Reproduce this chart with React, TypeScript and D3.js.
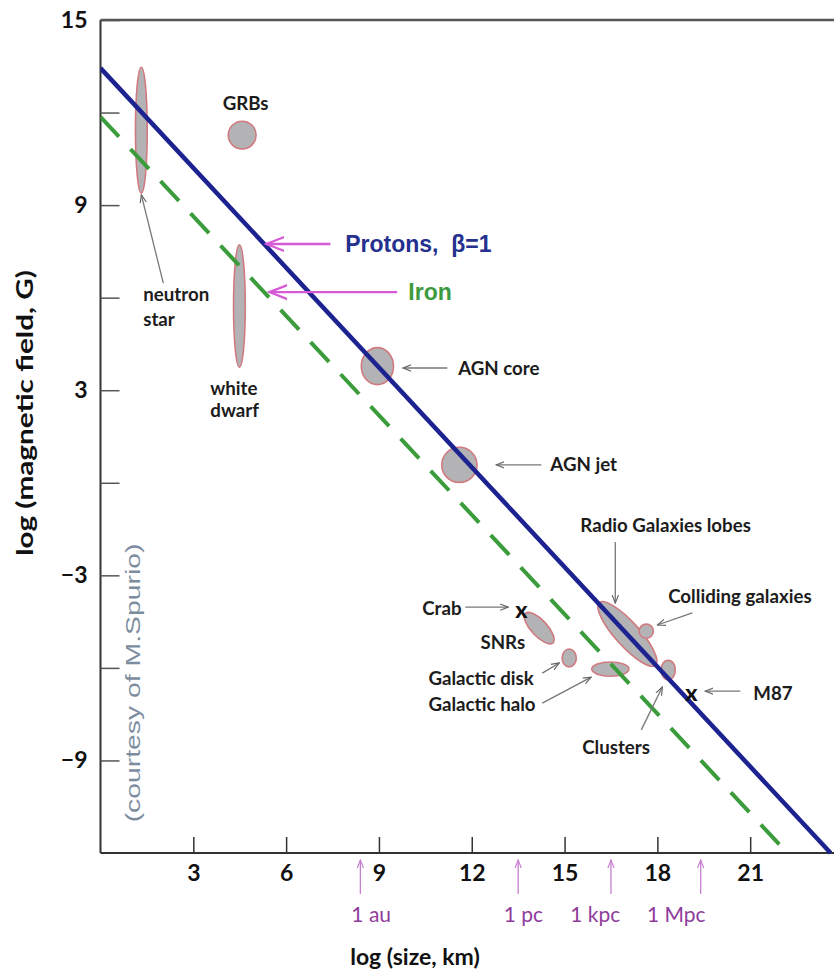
import React, { useRef, useEffect } from 'react';
import * as d3 from 'd3';

// Hillas lines: [log size (km), log B (G)]
const protonLine: [number, number][] = [[0, 13.44], [23.6, -12]];
const ironLine: [number, number][] = [[0, 11.86], [22.2, -12]];

// source regions (centre, half extent along each axis, tilt in degrees)
const sourceNames = ['neutron star', 'GRBs', 'white dwarf', 'AGN core', 'AGN jet', 'Radio Galaxies lobes', 'Colliding galaxies', 'Clusters', 'SNRs', 'Galactic disk', 'Galactic halo'];
const sourceSize = [1.32, 4.58, 4.49, 8.95, 11.6, 17.03, 17.64, 18.35, 14.18, 15.15, 16.48];
const sourceField = [11.43, 11.27, 5.73, 3.78, 0.58, -4.9, -4.81, -6.07, -4.71, -5.68, -6.04];
const sourceSizeSpread = [0.19, 0.45, 0.19, 0.52, 0.57, 1.36, 0.23, 0.23, 0.65, 0.23, 0.6];
const sourceFieldSpread = [2.04, 0.45, 1.98, 0.6, 0.57, 0.39, 0.23, 0.32, 0.26, 0.29, 0.23];
const sourceTilt = [0, 0, 0, 0, 0, 48, 0, 0, 47, 0, 0];

// single objects marked with x
const pointNames = ['Crab', 'M87'];
const pointSize = [13.6, 19.1];
const pointField = [-4.12, -6.82];

// annotation texts (left edge / centre line in data units)
const labelTexts = ['GRBs', 'neutron', 'star', 'white', 'dwarf', 'AGN core', 'AGN jet', 'Radio Galaxies lobes', 'Colliding galaxies', 'Crab', 'SNRs', 'Galactic disk', 'Galactic halo', 'M87', 'Clusters'];
const labelX = [3.95, 1.38, 1.38, 3.55, 3.55, 11.56, 14.54, 15.51, 18.35, 10.4, 12.28, 10.6, 10.6, 21.1, 15.57];
const labelY = [12.28, 6.09, 5.28, 3.07, 2.33, 3.72, 0.58, -1.37, -3.7, -4.06, -5.16, -6.33, -7.2, -6.82, -8.57];

// gray pointer arrows [from, to]
const pointerFrom: [number, number][] = [[2.03, 6.47], [11.21, 3.72], [14.25, 0.58], [16.64, -1.92], [19.13, -4.22], [11.79, -4.03], [14.28, -6.17], [14.28, -7.14], [20.68, -6.75], [17.48, -8.01]];
const pointerTo: [number, number][] = [[1.32, 9.33], [9.78, 3.72], [12.79, 0.58], [16.64, -3.9], [18.0, -4.61], [13.18, -4.03], [14.83, -5.84], [15.86, -6.3], [19.55, -6.75], [18.16, -6.62]];

// line legend
const legendNames = ['Protons,  β=1', 'Iron'];
const legendX = [7.91, 9.95];
const legendY = [7.74, 6.18];
const legendArrowFrom = [7.43, 9.59];
const legendArrowTo = [5.36, 5.46];

// length units under the x axis
const unitNames = ['1 au', '1 pc', '1 kpc', '1 Mpc'];
const unitValues = [8.4, 13.5, 16.5, 19.4];
const unitLabelAt = [8.75, 13.67, 15.99, 18.61];

const xTicks = [3, 6, 9, 12, 15, 18, 21];
const yTicks = [15, 12, 9, 6, 3, 0, -3, -6, -9];
const yTickLabels = [15, 9, 3, -3, -9];

const W = 834;
const H = 976;
const BLUE = '#1c2290';
const GREEN = '#3a9c3a';
const PINK = '#d659d6';
const FONT = 'Lato, "Open Sans", sans-serif';

export default function App() {
    const ref = useRef<SVGSVGElement>(null);

    useEffect(() => {
        const svg = d3.select(ref.current);
        svg.selectAll('*').remove();

        const x = d3.scaleLinear().domain([0, 24]).range([100.5, 843]);
        const y = d3.scaleLinear().domain([-12, 15]).range([853, 20]);

        const defs = svg.append('defs');
        defs.append('clipPath').attr('id', 'plot')
            .append('rect').attr('x', x(0)).attr('y', y(15)).attr('width', W - x(0)).attr('height', y(-12) - y(15) + 4);
        const head = (id: string, color: string, size: number, sw: number) =>
            defs.append('marker').attr('id', id)
                .attr('viewBox', '0 0 10 10').attr('refX', 9).attr('refY', 5)
                .attr('markerWidth', size).attr('markerHeight', size).attr('markerUnits', 'userSpaceOnUse')
                .attr('orient', 'auto')
                .append('path').attr('d', 'M0,1.5 L9,5 L0,8.5').attr('fill', 'none').attr('stroke', color).attr('stroke-width', sw);
        head('gray-head', '#666', 9, 1.3);
        head('pink-head', PINK, 20, 1.1);
        head('unit-head', '#c77fd0', 9, 1.3);

        // frame
        svg.append('line').attr('x1', x(0)).attr('x2', W).attr('y1', y(15)).attr('y2', y(15))
            .attr('stroke', '#555').attr('stroke-width', 2.5);

        // x axis
        svg.append('g')
            .attr('transform', `translate(0, ${y(-12)})`)
            .call(d3.axisBottom(x).tickValues(xTicks).tickSize(-16).tickPadding(12).tickFormat(d3.format('d')))
            .call(g => g.select('.domain').attr('d', `M${x(0)},0H${W}`).attr('stroke', '#333').attr('stroke-width', 2))
            .call(g => g.selectAll('.tick line').attr('stroke', '#333').attr('stroke-width', 1.5))
            .call(g => g.selectAll('.tick text').attr('font-family', FONT).attr('font-weight', 700).attr('font-size', 23).attr('fill', '#111'));

        // y axis
        svg.append('g')
            .attr('transform', `translate(${x(0)}, 0)`)
            .call(d3.axisLeft(y).tickValues(yTicks).tickSize(-19).tickPadding(14)
                .tickFormat(d => (yTickLabels.includes(+d) ? (+d < 0 ? '\u2212' + Math.abs(+d) : String(d)) : '')))
            .call(g => g.select('.domain').attr('d', `M0,${y(15)}V${y(-12)}`).attr('stroke', '#333').attr('stroke-width', 2))
            .call(g => g.selectAll('.tick line').attr('stroke', '#555').attr('stroke-width', 1.5))
            .call(g => g.selectAll('.tick text').attr('x', -13).attr('font-family', FONT).attr('font-weight', 700).attr('font-size', 23).attr('fill', '#111'));

        // axis titles
        svg.append('text').attr('x', 415).attr('y', 957).attr('text-anchor', 'middle').attr('dy', '0.35em')
            .attr('font-family', FONT).attr('font-weight', 700).attr('font-size', 23).attr('fill', '#111')
            .text('log (size, km)');
        svg.append('text').attr('transform', 'translate(25, 413) rotate(-90) scale(1.35, 1)').attr('text-anchor', 'middle').attr('dy', '0.35em')
            .attr('font-family', FONT).attr('font-weight', 700).attr('font-size', 22).attr('fill', '#111')
            .text('log (magnetic field, G)');
        svg.append('text').attr('transform', 'translate(133, 683) rotate(-90) scale(1.35, 1)').attr('text-anchor', 'middle').attr('dy', '0.35em')
            .attr('font-family', '"Liberation Sans", Arial, sans-serif').attr('font-size', 21).attr('fill', '#7d8da0')
            .text('(courtesy of M.Spurio)');

        // length units
        const units = svg.append('g');
        unitNames.forEach((name, i) => {
            units.append('line').attr('x1', x(unitValues[i])).attr('x2', x(unitValues[i]))
                .attr('y1', 894).attr('y2', 860)
                .attr('stroke', '#c77fd0').attr('stroke-width', 1.3).attr('marker-end', 'url(#unit-head)');
            units.append('text').attr('x', x(unitLabelAt[i])).attr('y', 915).attr('dy', '0.35em').attr('text-anchor', 'middle')
                .attr('font-family', FONT).attr('font-size', 21).attr('fill', '#8e3d9c')
                .text(name);
        });

        const plot = svg.append('g').attr('clip-path', 'url(#plot)');

        // source regions
        sourceNames.forEach((name, i) => {
            const cx = x(sourceSize[i]);
            const cy = y(sourceField[i]);
            plot.append('ellipse')
                .attr('cx', cx).attr('cy', cy)
                .attr('rx', x(sourceSizeSpread[i]) - x(0))
                .attr('ry', y(0) - y(sourceFieldSpread[i]))
                .attr('transform', `rotate(${sourceTilt[i]}, ${cx}, ${cy})`)
                .attr('fill', '#b3b3b5').attr('stroke', '#d07a80').attr('stroke-width', 1.6);
        });

        // Hillas lines
        const line = d3.line<[number, number]>().x(d => x(d[0])).y(d => y(d[1]));
        plot.append('path').datum(ironLine).attr('d', line)
            .attr('fill', 'none').attr('stroke', GREEN).attr('stroke-width', 4).attr('stroke-dasharray', '27 17');
        plot.append('path').datum(protonLine).attr('d', line)
            .attr('fill', 'none').attr('stroke', BLUE).attr('stroke-width', 4.5);

        // point objects
        pointNames.forEach((name, i) => {
            plot.append('text').attr('x', x(pointSize[i])).attr('y', y(pointField[i])).attr('dy', '0.35em')
                .attr('text-anchor', 'middle').attr('font-family', FONT).attr('font-weight', 900).attr('font-size', 23).attr('fill', '#111')
                .text('x');
        });

        // pointer arrows
        pointerFrom.forEach((from, i) => {
            svg.append('line')
                .attr('x1', x(from[0])).attr('y1', y(from[1]))
                .attr('x2', x(pointerTo[i][0])).attr('y2', y(pointerTo[i][1]))
                .attr('stroke', '#777').attr('stroke-width', 1.3).attr('marker-end', 'url(#gray-head)');
        });

        // annotation labels
        labelTexts.forEach((t, i) => {
            svg.append('text').attr('x', x(labelX[i])).attr('y', y(labelY[i])).attr('dy', '0.35em')
                .attr('font-family', FONT).attr('font-weight', 700).attr('font-size', 18.7).attr('fill', '#1c1c1c')
                .text(t);
        });

        // line legend with pink arrows
        legendNames.forEach((name, i) => {
            svg.append('line')
                .attr('x1', x(legendArrowFrom[i])).attr('y1', y(legendY[i]))
                .attr('x2', x(legendArrowTo[i])).attr('y2', y(legendY[i]))
                .attr('stroke', PINK).attr('stroke-width', 2.4).attr('marker-end', 'url(#pink-head)');
            svg.append('text').attr('x', x(legendX[i])).attr('y', y(legendY[i])).attr('dy', '0.35em')
                .attr('font-family', '"Liberation Sans", Arial, sans-serif').attr('font-weight', 700).attr('font-size', 23)
                .attr('fill', i === 0 ? '#25308f' : '#3e9a3e')
                .style('white-space', 'pre')
                .text(name);
        });
    }, []);

    return (
        <svg ref={ref} width={W} height={H}
            style={{ position: 'absolute', left: 0, top: 0, background: '#fff' }} />
    );
}
